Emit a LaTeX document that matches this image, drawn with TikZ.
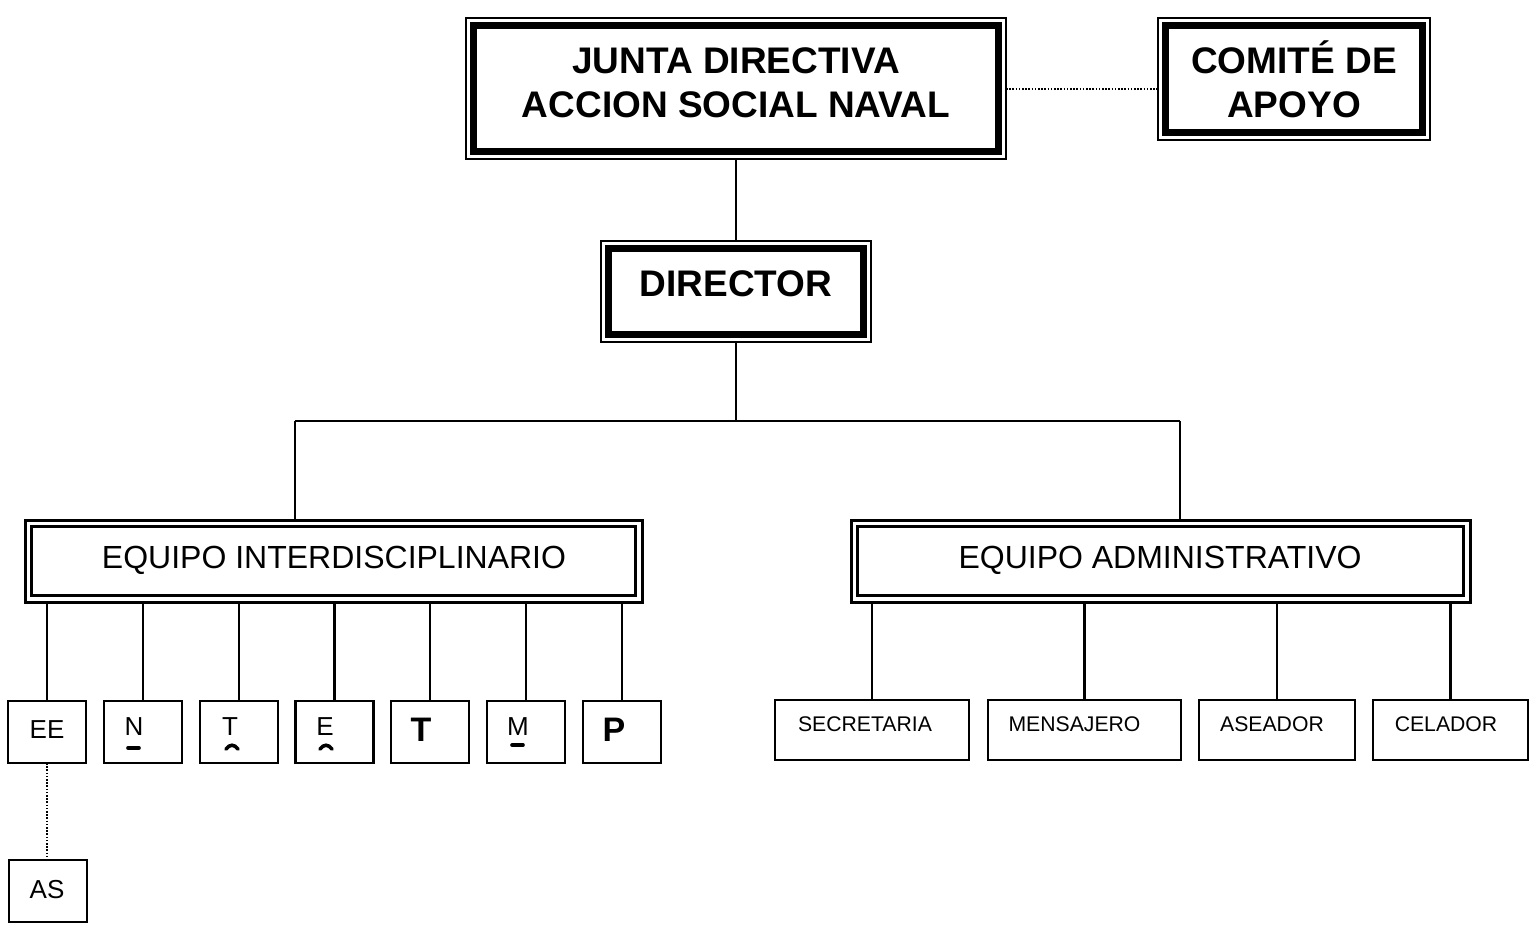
\documentclass[tikz,border=0pt]{standalone}
\usepackage{fontspec}
\setmainfont{Liberation Sans}
\begin{document}
\begin{tikzpicture}[x=0.5pt,y=-0.5pt,
  thinframe/.style={draw,line width=1.2pt,inner sep=0pt,outer sep=0pt},
  thickin/.style={line width=3.4pt},
  dblouter/.style={draw,line width=1.5pt,inner sep=0pt,outer sep=0pt},
  dblin/.style={line width=1.1pt},
  smallbox/.style={draw,line width=1.4pt,inner sep=0pt,outer sep=0pt,minimum width=39pt,minimum height=31pt},
  adminbox/.style={draw,line width=1.4pt,inner sep=0pt,outer sep=0pt,minimum height=30pt},
  conn/.style={line width=1.4pt},
  dotconn/.style={line width=1pt,dash pattern=on 0.8pt off 0.8pt},
  bigtxt/.style={inner sep=0pt,font=\fontsize{18.5}{22}\selectfont\bfseries,align=center},
  eqtxt/.style={inner sep=0pt,font=\fontsize{16}{19}\selectfont},
  smtxt/.style={inner sep=0pt,font=\fontsize{13}{15}\selectfont},
  smbold/.style={inner sep=0pt,font=\fontsize{17}{19}\selectfont\bfseries},
  admtxt/.style={inner sep=0pt,font=\fontsize{10.6}{12}\selectfont},
  markline/.style={line width=1.8pt,line cap=round}]
\fill[white] (0,0) rectangle (1537,934);
\useasboundingbox (0,0) rectangle (1537,934);

% top boxes
\node[thinframe,minimum width=270pt,minimum height=70.5pt] (junta) at (736,88.5) {};
\node[thinframe,minimum width=136pt,minimum height=61pt] (comite) at (1294,79) {};
\node[thinframe,minimum width=135pt,minimum height=50.5pt] (director) at (736,291.5) {};
\foreach \n in {junta,comite,director}
  \draw[thickin] ([shift={(7.5,7.5)}]\n.north west) rectangle ([shift={(-7.5,-7.5)}]\n.south east);

\node[bigtxt,anchor=base] (juntatxt) at (736,117) {JUNTA DIRECTIVA\\ACCION SOCIAL NAVAL};
\node[bigtxt,anchor=base] (comitetxt) at (1294,117) {COMITÉ DE\\APOYO};
\node[bigtxt,anchor=base] (directortxt) at (736,296) {DIRECTOR};

% equipo boxes
\node[dblouter,minimum width=308.5pt,minimum height=41pt] (ei) at (333.5,561) {};
\node[dblouter,minimum width=309.5pt,minimum height=41pt] (ad) at (1160.5,561) {};
\foreach \n in {ei,ad}
  \draw[dblin] ([shift={(6.5,6.5)}]\n.north west) rectangle ([shift={(-6.5,-6.5)}]\n.south east);
\node[eqtxt,anchor=base] (eitxt) at (334,568) {EQUIPO INTERDISCIPLINARIO};
\node[eqtxt,anchor=base] (adtxt) at (1160,568) {EQUIPO ADMINISTRATIVO};

% small boxes
\node[smallbox] (ee) at (47,732) {};
\node[smallbox] (n) at (143,732) {};
\node[smallbox] (t1) at (239,732) {};
\node[smallbox] (e) at (334.5,732) {};
\node[smallbox] (t2) at (430,732) {};
\node[smallbox] (m) at (526,732) {};
\node[smallbox] (p) at (622,732) {};
\node[smallbox] (as) at (48,891) {};

\node[smtxt,anchor=base] (eetxt) at (47,738) {EE};
\node[smtxt,anchor=base] (ntxt) at (134,735) {N};
\node[smtxt,anchor=base] (t1txt) at (230,735) {T};
\node[smtxt,anchor=base] (etxt) at (325,735) {E};
\node[smbold,anchor=base] (t2txt) at (421,741) {T};
\node[smtxt,anchor=base] (mtxt) at (518,735) {M};
\node[smbold,anchor=base] (ptxt) at (614,741) {P};
\node[smtxt,anchor=base] (astxt) at (47,898) {AS};

\draw[markline] (128,748) -- (139,748);
\draw[markline] (226,749) .. controls (230,744) and (234,744) .. (238,749);
\draw[markline] (320,749) .. controls (324,744) and (328,744) .. (332,749);
\draw[markline] (512,745) -- (523,745);

% admin boxes
\node[adminbox,minimum width=97pt] (sec) at (872,730) {};
\node[adminbox,minimum width=96.5pt] (men) at (1084.5,730) {};
\node[adminbox,minimum width=78pt] (ase) at (1277,730) {};
\node[adminbox,minimum width=77.5pt] (cel) at (1450.5,730) {};
\node[admtxt,anchor=base] (sectxt) at (865,731) {SECRETARIA};
\node[admtxt,anchor=base] (mentxt) at (1074.5,731) {MENSAJERO};
\node[admtxt,anchor=base] (asetxt) at (1272,731) {ASEADOR};
\node[admtxt,anchor=base] (celtxt) at (1446,731) {CELADOR};

% connectors
\coordinate (busC) at (736,421);
\coordinate (busL) at (295,421);
\coordinate (busR) at (1180,421);
\draw[dotconn] (junta.east) -- (junta.east -| comite.west);
\draw[conn] (junta.south) -- (director.north);
\draw[conn] (director.south) -- (busC);
\draw[conn] (busL) -- (busR);
\draw[conn] (busL) -- (busL |- ei.north);
\draw[conn] (busR) -- (busR |- ad.north);
\foreach \n in {ee,n,t1,e,t2,m,p}
  \draw[conn] (\n.north |- ei.south) -- (\n.north);
\foreach \n in {sec,men,ase,cel}
  \draw[conn] (\n.north |- ad.south) -- (\n.north);
\draw[dotconn] (ee.south) -- (ee.south |- as.north);
\end{tikzpicture}
\end{document}
